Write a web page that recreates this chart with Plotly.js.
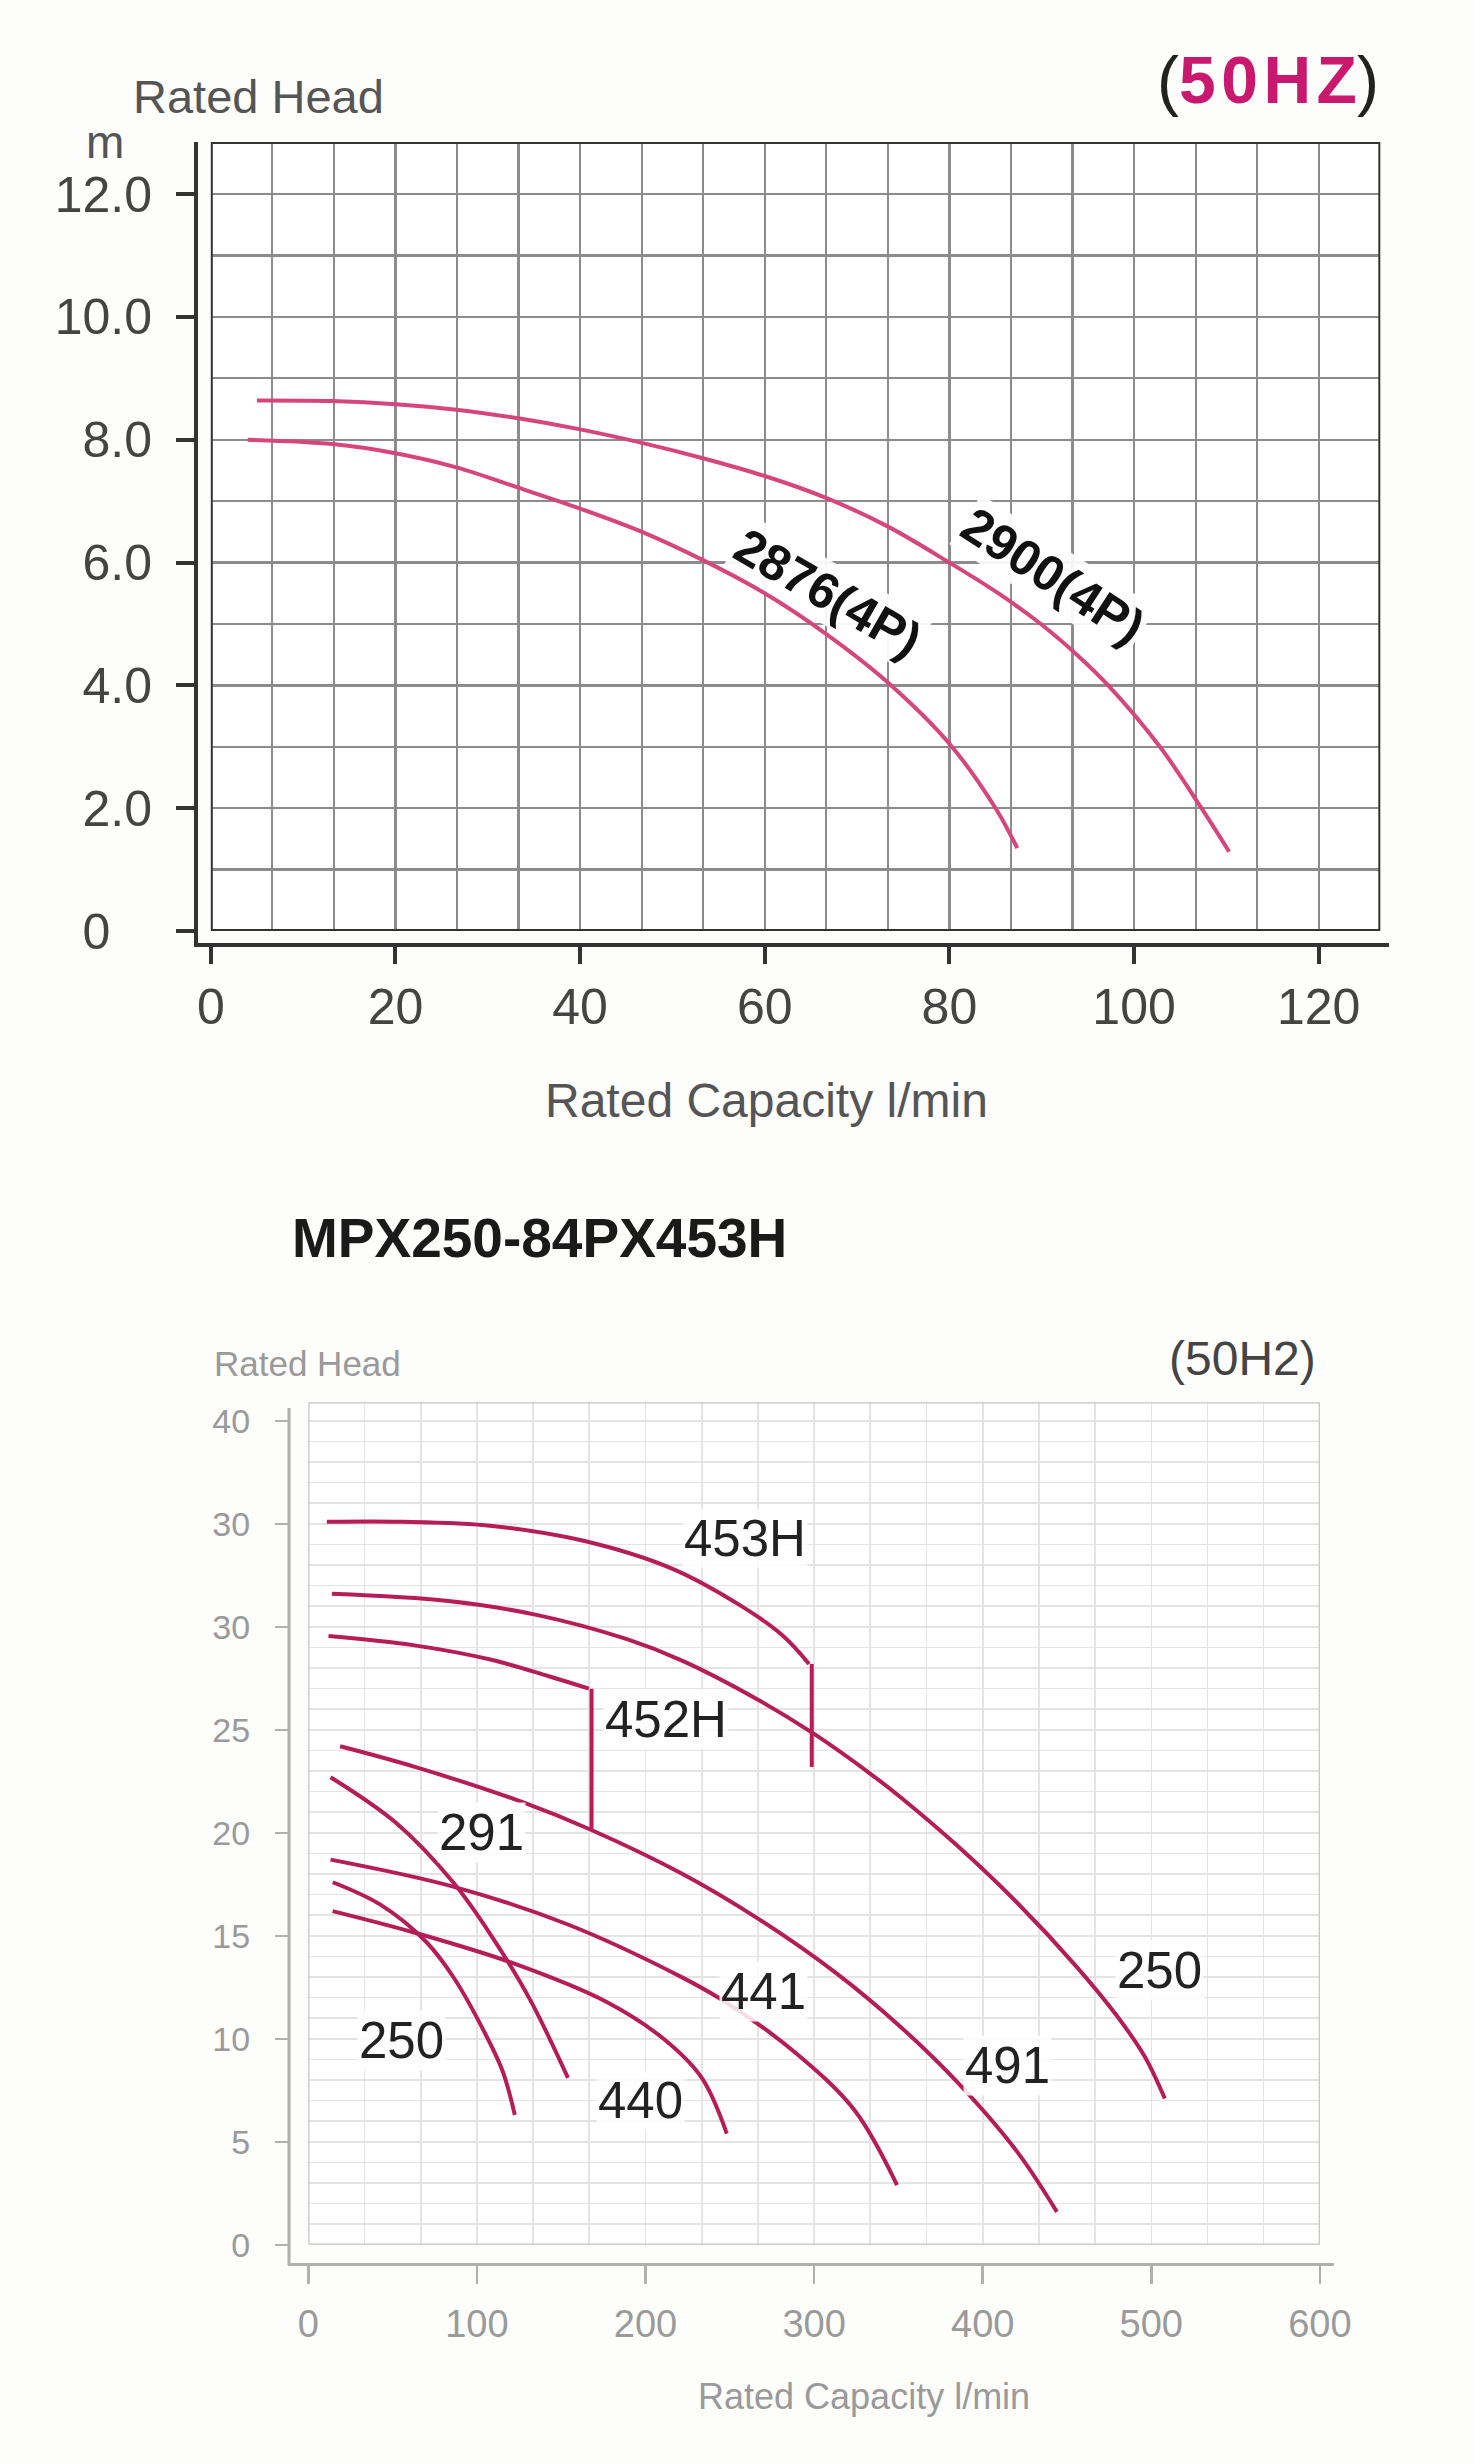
<!DOCTYPE html>
<html>
<head>
<meta charset="utf-8">
<script src="https://cdn.plot.ly/plotly-3.0.1.min.js"></script>
<style>
  html, body { margin: 0; padding: 0; background: #fdfdfb; }
</style>
</head>
<body>
<div id="pump_curves" style="width:1474px;height:2464px"></div>
<script>

// ---- top chart: 4P curves, head in m vs capacity in l/min ----
const capTop2900 = [5.0, 13.2, 20, 26.6, 33.3, 40, 46.7, 53.3, 60, 66.7, 73.3, 80, 85.4, 89.9, 93.8, 97.2, 102.8, 107.3, 110.3];
const headTop2900 = [8.64, 8.63, 8.58, 8.49, 8.35, 8.17, 7.95, 7.70, 7.41, 7.05, 6.59, 6.0, 5.49, 5.0, 4.5, 4.0, 3.0, 2.0, 1.29];

const capTop2876 = [4.0, 13.2, 20, 26.6, 33.3, 40, 46.7, 53.3, 60, 66.7, 73.3, 80, 85.0, 87.35];
const headTop2876 = [8.0, 7.93, 7.78, 7.55, 7.22, 6.88, 6.50, 6.04, 5.50, 4.83, 4.05, 3.05, 2.0, 1.35];

const topXTicks = [0, 20, 40, 60, 80, 100, 120];
const topYTicks = [0, 2, 4, 6, 8, 10, 12];
const topYTickText = ['0\u00a0\u00a0\u00a0', '2.0', '4.0', '6.0', '8.0', '10.0', '12.0'];

const topLabels = ['2876(4P)', '2900(4P)'];
const topLabelCap = [66.8, 91.2];
const topLabelHead = [5.5, 5.78];

// ---- bottom chart: MPX250-84PX453H ----
const cap453H = [11, 56, 109, 162, 215, 255, 281, 297];
const head453H = [35.1, 35.1, 34.9, 34.2, 32.85, 31.1, 29.6, 28.2];
const cap453HDrop = [298.6, 298.6];
const head453HDrop = [28.2, 23.2];

const cap452H = [12, 63, 108.6, 142.6, 166.4];
const head452H = [29.55, 29.1, 28.4, 27.6, 27.0];
const cap452HDrop = [168, 168];
const head452HDrop = [27.0, 20.2];

const cap250Big = [14, 83, 136, 189, 222, 267, 300, 334, 352, 385, 420, 456, 480, 496, 508];
const head250Big = [31.6, 31.25, 30.57, 29.4, 28.35, 26.45, 24.8, 22.83, 21.68, 19.37, 16.64, 13.47, 11.07, 9.15, 7.1];

const cap491 = [18.9, 63.2, 126.7, 167.6, 222, 267.4, 312.9, 351, 385.5, 420.6, 444];
const head491 = [24.2, 23.2, 21.5, 20.15, 18.0, 15.8, 13.2, 10.6, 7.85, 4.5, 1.6];

const cap291 = [13.2, 51.8, 85.9, 108.6, 131.2, 154];
const head291 = [22.7, 20.5, 17.6, 15.0, 11.95, 8.1];

const cap441 = [13.2, 85.9, 154, 222, 249.3, 290, 324.2, 349.2];
const head441 = [18.7, 17.39, 15.55, 12.97, 11.69, 9.25, 6.51, 2.9];

const cap250Small = [14.5, 43, 70, 86, 104, 115.4, 122.5];
const head250Small = [17.6, 16.5, 14.7, 13.0, 10.4, 8.4, 6.3];

const cap440 = [14.4, 63.2, 122.2, 176.7, 210.7, 233.4, 248.2];
const head440 = [16.2, 15.15, 13.65, 11.8, 10.0, 8.1, 5.4];

const botXTicks = [0, 100, 200, 300, 400, 500, 600];
const botYTicks = [0, 5, 10, 15, 20, 25, 30, 35, 40];
const botYTickText = ['0', '5', '10', '15', '20', '25', '30', '30', '40'];

const botLabels = ['453H', '452H', '291', '250', '440', '441', '491', '250'];
const botLabelCap = [259, 212, 103, 55, 197, 269.7, 415, 505];
const botLabelHead = [34.3, 25.5, 20.0, 9.9, 7.0, 12.3, 8.7, 13.3];


const W = 1474;
const H = 2464;
// page pixels -> paper fractions (margins are 0)
function px(x) { return x / W; }
function py(y) { return 1 - y / H; }

const FONT = 'Liberation Sans, Arial, Helvetica, sans-serif';
const topPink = 'rgb(214,70,125)';
const botPink = 'rgb(182,28,86)';

function curve(x, y, xa, ya, color, shape) {
    return {
        type: 'scatter',
        mode: 'lines',
        x: x,
        y: y,
        xaxis: xa,
        yaxis: ya,
        line: { color: color, width: 4, shape: shape, smoothing: 1 },
        hoverinfo: 'none',
        showlegend: false
    };
}

const traces = [
    curve(capTop2900, headTop2900, 'x', 'y', topPink, 'spline'),
    curve(capTop2876, headTop2876, 'x', 'y', topPink, 'spline'),

    curve(cap453H, head453H, 'x2', 'y2', botPink, 'spline'),
    curve(cap453HDrop, head453HDrop, 'x2', 'y2', botPink, 'linear'),
    curve(cap452H, head452H, 'x2', 'y2', botPink, 'spline'),
    curve(cap452HDrop, head452HDrop, 'x2', 'y2', botPink, 'linear'),
    curve(cap250Big, head250Big, 'x2', 'y2', botPink, 'spline'),
    curve(cap491, head491, 'x2', 'y2', botPink, 'spline'),
    curve(cap291, head291, 'x2', 'y2', botPink, 'spline'),
    curve(cap441, head441, 'x2', 'y2', botPink, 'spline'),
    curve(cap250Small, head250Small, 'x2', 'y2', botPink, 'spline'),
    curve(cap440, head440, 'x2', 'y2', botPink, 'spline')
];

const topGrid = '#8c8c8c';
const botGrid = '#e4e4e4';

const annotations = [];

// curve labels
topLabels.forEach((t, i) => {
    annotations.push({
        xref: 'x', yref: 'y',
        x: topLabelCap[i], y: topLabelHead[i],
        text: '<b>' + t + '</b>',
        showarrow: false,
        textangle: i === 0 ? 30 : 33,
        bgcolor: 'rgba(255,255,255,0.92)',
        font: { family: FONT, size: 50, color: '#111' }
    });
});

botLabels.forEach((t, i) => {
    annotations.push({
        xref: 'x2', yref: 'y2',
        x: botLabelCap[i], y: botLabelHead[i],
        text: t,
        showarrow: false,
        bgcolor: 'rgba(255,255,255,0.85)',
        font: { family: FONT, size: 51, color: '#222' }
    });
});

// titles and axis captions
annotations.push(
    { xref: 'paper', yref: 'paper', x: px(131), y: py(97), xanchor: 'left', yanchor: 'middle',
      text: 'Rated Head', showarrow: false, font: { family: FONT, size: 47, color: '#555' } },
    { xref: 'paper', yref: 'paper', x: px(105), y: py(142), xanchor: 'center', yanchor: 'middle',
      text: 'm', showarrow: false, font: { family: FONT, size: 46, color: '#555' } },
    { xref: 'paper', yref: 'paper', x: px(1381), y: py(80), xanchor: 'right', yanchor: 'middle',
      text: '<span style="color:#222">(</span><b>5\u200a0\u200aH\u200aZ</b><span style="color:#222">)</span>',
      showarrow: false, font: { family: FONT, size: 66, color: 'rgb(200,25,110)' } },
    { xref: 'paper', yref: 'paper', x: px(766), y: py(1100), xanchor: 'center', yanchor: 'middle',
      text: 'Rated Capacity l/min', showarrow: false, font: { family: FONT, size: 48, color: '#555' } },

    { xref: 'paper', yref: 'paper', x: px(290), y: py(1238), xanchor: 'left', yanchor: 'middle',
      text: '<b>MPX250-84PX453H</b>', showarrow: false, font: { family: FONT, size: 55, color: '#1a1a1a' } },
    { xref: 'paper', yref: 'paper', x: px(212), y: py(1363), xanchor: 'left', yanchor: 'middle',
      text: 'Rated Head', showarrow: false, font: { family: FONT, size: 35, color: '#9a9a9a' } },
    { xref: 'paper', yref: 'paper', x: px(1318), y: py(1358), xanchor: 'right', yanchor: 'middle',
      text: '(50H2)', showarrow: false, font: { family: FONT, size: 48, color: '#444' } },
    { xref: 'paper', yref: 'paper', x: px(864), y: py(2396), xanchor: 'center', yanchor: 'middle',
      text: 'Rated Capacity l/min', showarrow: false, font: { family: FONT, size: 36, color: '#9a9a9a' } }
);

const shapes = [
    // top chart frame and offset L-shaped axis
    { type: 'rect', xref: 'x', yref: 'y', x0: 0, x1: 126.67, y0: 0, y1: 12.85,
      line: { color: '#333', width: 4 } },
    { type: 'line', xref: 'paper', yref: 'paper', x0: px(196), x1: px(196), y0: py(947), y1: py(142),
      line: { color: '#333', width: 4 } },
    { type: 'line', xref: 'paper', yref: 'paper', x0: px(194), x1: px(1389), y0: py(945), y1: py(945),
      line: { color: '#333', width: 4 } },

    // bottom chart frame and offset axis
    { type: 'rect', xref: 'x2', yref: 'y2', x0: 0, x1: 600, y0: 0, y1: 40.9,
      line: { color: '#c4c4c4', width: 2.5 } },
    { type: 'line', xref: 'paper', yref: 'paper', x0: px(289), x1: px(289), y0: py(2265), y1: py(1408),
      line: { color: '#b0b0b0', width: 3 } },
    { type: 'line', xref: 'paper', yref: 'paper', x0: px(288), x1: px(1334), y0: py(2264.6), y1: py(2264.6),
      line: { color: '#b0b0b0', width: 3 } }
];

const layout = {
    width: W,
    height: H,
    margin: { l: 0, r: 0, t: 0, b: 0 },
    paper_bgcolor: '#fdfdfb',
    plot_bgcolor: '#ffffff',
    showlegend: false,

    xaxis: {
        domain: [px(210.8), px(1380.3)],
        range: [0, 126.67],
        anchor: 'free',
        position: py(945),
        tickmode: 'array',
        tickvals: topXTicks,
        ticks: 'outside',
        ticklen: 18,
        tickwidth: 4,
        tickcolor: '#333',
        showline: false,
        zeroline: false,
        showgrid: true,
        gridcolor: topGrid,
        gridwidth: 2.2,
        minor: { tick0: 0, dtick: 20 / 3, showgrid: true, gridcolor: topGrid, gridwidth: 2.2 },
        tickfont: { family: FONT, size: 50, color: '#444' },
        fixedrange: true
    },
    yaxis: {
        domain: [py(931), py(142)],
        range: [0, 12.85],
        anchor: 'free',
        position: px(196),
        tickmode: 'array',
        tickvals: topYTicks,
        ticktext: topYTickText,
        ticks: 'outside',
        ticklen: 20,
        tickwidth: 4,
        tickcolor: '#333',
        ticklabelstandoff: 14,
        showline: false,
        zeroline: false,
        showgrid: true,
        gridcolor: topGrid,
        gridwidth: 2.2,
        minor: { tick0: 0, dtick: 1, showgrid: true, gridcolor: topGrid, gridwidth: 2.2 },
        tickfont: { family: FONT, size: 50, color: '#444' },
        fixedrange: true
    },

    xaxis2: {
        domain: [px(308.3), px(1319.9)],
        range: [0, 600],
        anchor: 'free',
        position: py(2264.6),
        tickmode: 'array',
        tickvals: botXTicks,
        ticks: 'outside',
        ticklen: 18,
        tickwidth: 2.5,
        tickcolor: '#b0b0b0',
        ticklabelstandoff: 8,
        showline: false,
        zeroline: false,
        showgrid: true,
        gridcolor: botGrid,
        gridwidth: 1.6,
        minor: { tick0: 0, dtick: 100 / 3, showgrid: true, gridcolor: botGrid, gridwidth: 1.6 },
        tickfont: { family: FONT, size: 38, color: '#9a9a9a' },
        fixedrange: true
    },
    yaxis2: {
        domain: [py(2244.8), py(1402.3)],
        range: [0, 40.9],
        anchor: 'free',
        position: px(289),
        tickmode: 'array',
        tickvals: botYTicks,
        ticktext: botYTickText,
        ticks: 'outside',
        ticklen: 14,
        tickwidth: 2.5,
        tickcolor: '#b0b0b0',
        ticklabelstandoff: 18,
        showline: false,
        zeroline: false,
        showgrid: true,
        gridcolor: botGrid,
        gridwidth: 1.6,
        minor: { tick0: 0, dtick: 1, showgrid: true, gridcolor: botGrid, gridwidth: 1.6 },
        tickfont: { family: FONT, size: 34, color: '#9a9a9a' },
        fixedrange: true
    },

    shapes: shapes,
    annotations: annotations
};

Plotly.newPlot('pump_curves', traces, layout, { staticPlot: true, displayModeBar: false });

</script>
</body>
</html>
